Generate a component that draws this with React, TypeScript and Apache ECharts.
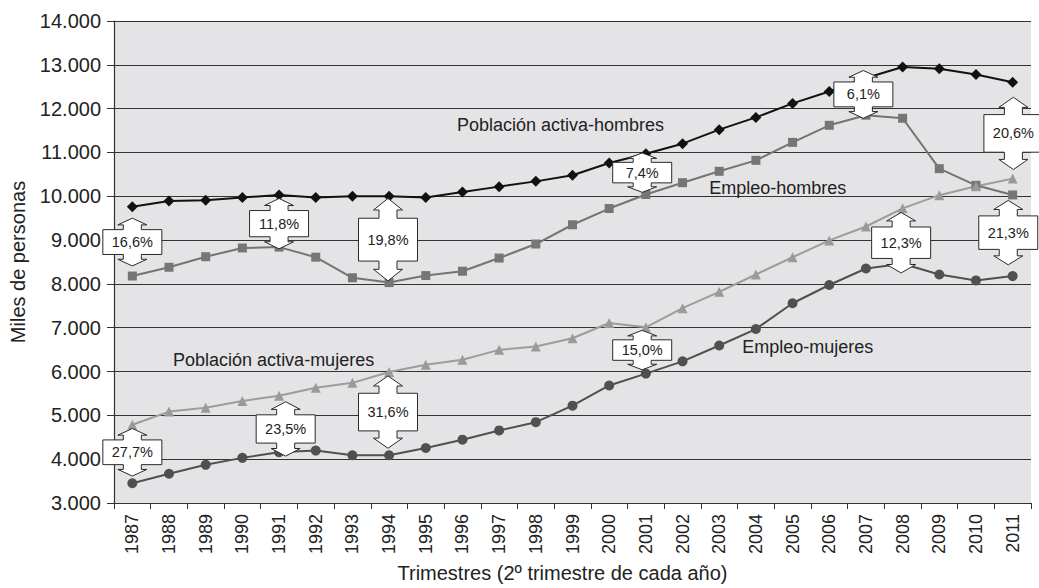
import React, { useEffect, useRef } from "react";
import * as echarts from "echarts";

const years = ["1987","1988","1989","1990","1991","1992","1993","1994","1995","1996","1997","1998","1999","2000","2001","2002","2003","2004","2005","2006","2007","2008","2009","2010","2011"];

const pobHombres = [9760, 9890, 9910, 9970, 10030, 9970, 10000, 10000, 9970, 10100, 10220, 10340, 10480, 10760, 10970, 11200, 11520, 11800, 12120, 12390, 12700, 12950, 12910, 12780, 12600];
const empHombres = [8180, 8380, 8620, 8820, 8840, 8610, 8140, 8030, 8190, 8290, 8590, 8910, 9350, 9720, 10040, 10310, 10570, 10820, 11230, 11620, 11850, 11780, 10630, 10250, 10030];
const pobMujeres = [4785, 5086, 5176, 5328, 5448, 5629, 5742, 5991, 6157, 6270, 6495, 6570, 6760, 7107, 7010, 7446, 7820, 8215, 8608, 8993, 9310, 9724, 10025, 10229, 10403];
const empMujeres = [3450, 3668, 3871, 4030, 4158, 4197, 4090, 4090, 4256, 4445, 4656, 4844, 5222, 5682, 5953, 6233, 6595, 6970, 7559, 7975, 8351, 8460, 8215, 8080, 8178];

// Double arrows (gap between active population and employment)
const arrowPos = [0, 4, 6.97, 13.9, 19.93, 24.02, 0, 4.18, 6.97, 13.9, 20.96, 23.88];
const arrowTop = [9500, 9950, 9950, 10990, 12870, 12260, 4700, 5310, 5900, 6940, 9630, 9905];
const arrowBottom = [8410, 8800, 8070, 10090, 11780, 10610, 3615, 4070, 4250, 6040, 8250, 8435];
const arrowLabels = ["16,6%", "11,8%", "19,8%", "7,4%", "6,1%", "20,6%", "27,7%", "23,5%", "31,6%", "15,0%", "12,3%", "21,3%"];

// Series name annotations
const notePos = [8.85, 15.73, 1.11, 16.63];
const noteValue = [11624, 10199, 6262, 6557];
const noteText = ["Población activa-hombres", "Empleo-hombres", "Población activa-mujeres", "Empleo-mujeres"];

const FONT = "'Liberation Sans', Arial, Helvetica, sans-serif";

function fmt(v: number) {
  return String(v).replace(/\B(?=(\d{3})+(?!\d))/g, ".");
}

export default function App() {
  const ref = useRef<HTMLDivElement>(null);
  useEffect(() => {
    if (!ref.current) return;
    const chart = echarts.init(ref.current, null, { renderer: "svg" });

    const arrowData = arrowPos.map((p, i) => [p, arrowTop[i], arrowBottom[i]]);
    const noteData = notePos.map((p, i) => [p, noteValue[i]]);

    const renderArrow = (params: any, api: any) => {
      const i = params.dataIndex;
      const a = api.coord([api.value(0), api.value(1)]);
      const b = api.coord([api.value(0), api.value(2)]);
      const cx = a[0];
      const ty = a[1];
      const by = b[1];
      const span = by - ty;
      const headH = span * 0.14;
      const shaftH = span * 0.1;
      const bt = ty + headH + shaftH;
      const bb = by - headH - shaftH;
      const bw = 29.5, sw = 9, hw = 14.5;
      const pts = [
        [cx, ty], [cx + hw, ty + headH], [cx + sw, ty + headH], [cx + sw, bt], [cx + bw, bt],
        [cx + bw, bb], [cx + sw, bb], [cx + sw, by - headH], [cx + hw, by - headH], [cx, by],
        [cx - hw, by - headH], [cx - sw, by - headH], [cx - sw, bb], [cx - bw, bb], [cx - bw, bt],
        [cx - sw, bt], [cx - sw, ty + headH], [cx - hw, ty + headH],
      ];
      return {
        type: "group",
        children: [
          {
            type: "polygon",
            shape: { points: pts },
            style: { fill: "#ffffff", stroke: "#2a2a2a", lineWidth: 1 },
          },
          {
            type: "text",
            x: cx,
            y: (bt + bb) / 2,
            style: {
              text: arrowLabels[i],
              fontSize: 14.5,
              fontFamily: FONT,
              fill: "#222",
              align: "center",
              verticalAlign: "middle",
            },
          },
        ],
      };
    };

    const renderNote = (params: any, api: any) => {
      const p = api.coord([api.value(0), api.value(1)]);
      return {
        type: "text",
        x: p[0],
        y: p[1],
        style: {
          text: noteText[params.dataIndex],
          fontSize: 18,
          fontFamily: FONT,
          fill: "#222",
          align: "left",
          verticalAlign: "middle",
        },
      };
    };

    chart.setOption({
      animation: false,
      backgroundColor: "#ffffff",
      textStyle: { fontFamily: FONT },
      grid: {
        left: 114,
        right: 8,
        top: 21,
        bottom: 81,
        show: true,
        backgroundColor: "#e4e4e6",
        borderWidth: 0,
      },
      xAxis: [
        {
          type: "category",
          data: years,
          boundaryGap: true,
          axisLine: { show: true, onZero: false, lineStyle: { color: "#333", width: 1.2 } },
          axisTick: { show: true, length: 6, lineStyle: { color: "#333" } },
          axisLabel: { rotate: 90, fontSize: 18, color: "#222", margin: 11, fontFamily: FONT },
          splitLine: { show: false },
          name: "Trimestres (2º trimestre de cada año)",
          nameLocation: "middle",
          nameGap: 60,
          nameTextStyle: { fontSize: 20, color: "#222", fontFamily: FONT, padding: [0, 20, 0, 0] },
        },
        {
          type: "value",
          min: -0.5,
          max: 24.5,
          show: false,
          position: "bottom",
          axisLine: { show: false, onZero: false },
          splitLine: { show: false },
        },
      ],
      yAxis: {
        type: "value",
        min: 3000,
        max: 14000,
        interval: 1000,
        axisLine: { show: true, onZero: false, lineStyle: { color: "#333", width: 1.2 } },
        axisTick: { show: true, length: 7, lineStyle: { color: "#333" } },
        axisLabel: { fontSize: 20, color: "#222", margin: 13, formatter: (v: number) => fmt(v), fontFamily: FONT },
        splitLine: { show: true, lineStyle: { color: "#333", width: 1.2 } },
        name: "Miles de personas",
        nameLocation: "middle",
        nameGap: 86,
        nameTextStyle: { fontSize: 20, color: "#222", fontFamily: FONT },
      },
      series: [
        {
          name: "Población activa-hombres",
          type: "line",
          data: pobHombres,
          symbol: "diamond",
          symbolSize: 11,
          lineStyle: { color: "#111", width: 2 },
          itemStyle: { color: "#111" },
          z: 3,
        },
        {
          name: "Empleo-hombres",
          type: "line",
          data: empHombres,
          symbol: "rect",
          symbolSize: 9,
          lineStyle: { color: "#747474", width: 2 },
          itemStyle: { color: "#767676" },
          z: 3,
        },
        {
          name: "Población activa-mujeres",
          type: "line",
          data: pobMujeres,
          symbol: "triangle",
          symbolSize: 10,
          lineStyle: { color: "#9c9c9c", width: 2 },
          itemStyle: { color: "#9a9a9a" },
          z: 3,
        },
        {
          name: "Empleo-mujeres",
          type: "line",
          data: empMujeres,
          symbol: "circle",
          symbolSize: 10,
          lineStyle: { color: "#505050", width: 2 },
          itemStyle: { color: "#505050" },
          z: 3,
        },
        {
          type: "custom",
          xAxisIndex: 1,
          yAxisIndex: 0,
          data: arrowData,
          renderItem: renderArrow,
          clip: false,
          z: 10,
          silent: true,
        },
        {
          type: "custom",
          xAxisIndex: 1,
          yAxisIndex: 0,
          data: noteData,
          renderItem: renderNote,
          clip: false,
          z: 9,
          silent: true,
        },
      ],
    });
    return () => chart.dispose();
  }, []);

  return (
    <div
      ref={ref}
      style={{ position: "fixed", left: 0, top: 0, width: 1039, height: 588, background: "#fff" }}
    />
  );
}
